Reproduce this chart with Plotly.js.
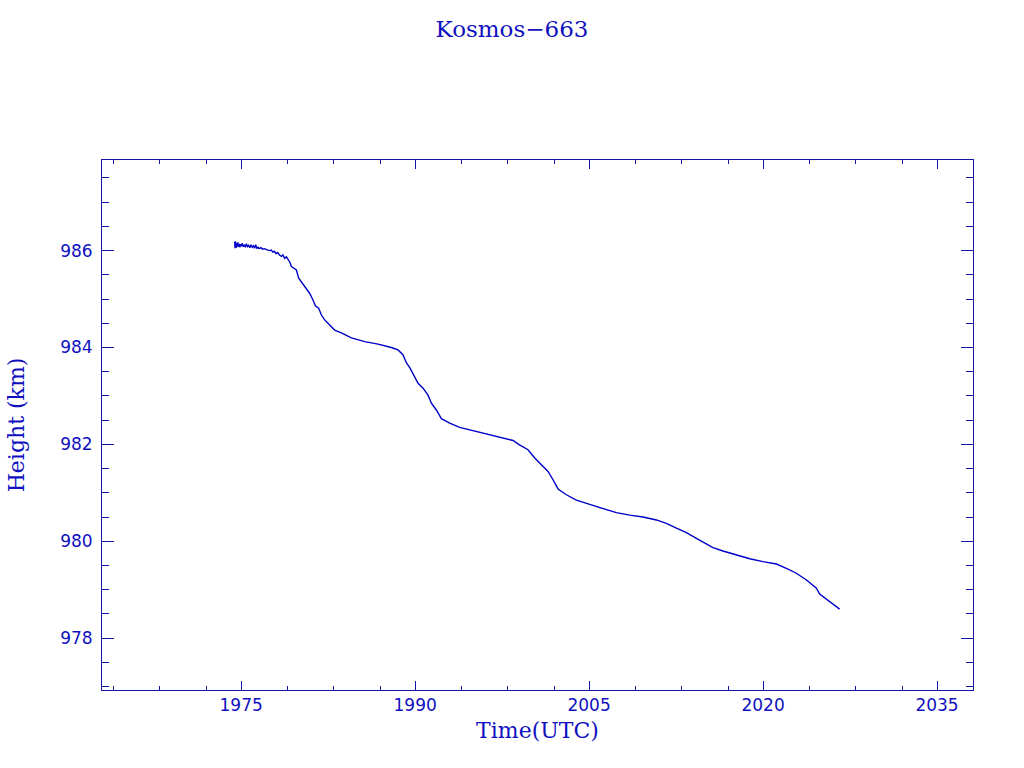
<!DOCTYPE html>
<html>
<head>
<meta charset="utf-8">
<script src="https://cdn.plot.ly/plotly-3.0.1.min.js"></script>
<style>html,body{margin:0;padding:0;background:#fff;}#chart{width:1024px;height:768px;}</style>
</head>
<body>
<div id="chart"></div>
<script>
var chartTitle = "Kosmos\u2212663";
var xTitle = "Time(UTC)";
var yTitle = "Height (km)";

var years = [
  1974.44,1974.47,1974.50,1974.53,1974.56,1974.60,1974.64,1974.68,1974.72,1974.76,
  1974.82,1974.88,1974.95,1975.02,1975.10,1975.18,1975.27,1975.36,1975.45,1975.55,
  1975.65,1975.75,1975.85,1975.95,1976.05,1976.15,1976.25,1976.35,1976.45,1976.55,
  1976.70,1976.85,1977.00,1977.15,1977.30,1977.45,1977.60,1977.72,1977.85,1978.00,
  1978.15,1978.30,1978.47,1978.60,1978.75,1978.90,1979.04,1979.20,1979.33,1979.55,
  1979.76,1979.96,1980.20,1980.48,1980.70,1980.90,1981.19,1981.40,1981.68,1981.92,
  1982.20,1982.63,1983.06,1983.64,1984.50,1985.65,1986.80,1987.95,1988.52,1988.95,
  1989.25,1989.55,1989.81,1990.25,1990.68,1991.10,1991.40,1991.83,1992.26,1992.98,
  1993.84,1994.99,1996.14,1997.29,1998.44,1999.00,1999.73,2000.31,2000.88,2001.46,
  2001.89,2002.32,2003.04,2003.90,2005.05,2006.20,2007.35,2008.50,2009.65,2010.80,
  2011.66,2012.53,2013.39,2014.25,2014.97,2015.68,2016.54,2017.70,2018.85,2019.99,
  2021.15,2022.01,2022.87,2023.74,2024.60,2024.88,2025.60,2026.60
];
var heights = [
  986.18,986.05,986.19,986.07,986.16,986.06,986.15,986.09,986.17,986.08,
  986.14,986.07,986.13,986.09,986.15,986.08,986.12,986.07,986.14,986.08,
  986.11,986.06,986.12,986.07,986.10,986.05,986.12,986.04,986.07,986.04,
  986.06,986.03,986.04,986.02,986.01,986.00,986.01,985.97,985.99,985.94,
  985.96,985.91,985.88,985.91,985.84,985.87,985.81,985.76,985.67,985.64,
  985.60,985.43,985.35,985.26,985.18,985.12,984.98,984.86,984.81,984.67,
  984.57,984.47,984.36,984.30,984.20,984.12,984.07,984.00,983.95,983.85,
  983.68,983.58,983.47,983.26,983.16,983.02,982.85,982.71,982.53,982.44,
  982.35,982.28,982.22,982.14,982.08,981.99,981.89,981.72,981.58,981.44,
  981.27,981.08,980.96,980.85,980.76,980.67,980.59,980.54,980.50,980.44,
  980.37,980.27,980.18,980.06,979.96,979.87,979.80,979.72,979.64,979.58,
  979.53,979.44,979.34,979.20,979.03,978.91,978.78,978.60
];

var xMajorTicks = [1975, 1990, 2005, 2020, 2035];
var xMajorLabels = ["1975", "1990", "2005", "2020", "2035"];
var xMinorTicks = [1964, 1968, 1972, 1979, 1983, 1987, 1994, 1998, 2002, 2009, 2013, 2017, 2024, 2028, 2032];
var yMajorTicks = [978, 980, 982, 984, 986];
var yMajorLabels = ["978", "980", "982", "984", "986"];
var yMinorTicks = [977, 977.5, 978.5, 979, 979.5, 980.5, 981, 981.5, 982.5, 983, 983.5, 984.5, 985, 985.5, 986.5, 987, 987.5];
var xRange = [1963, 2038.1];
var yRange = [976.93, 987.87];

var axisColor = "#1414a8";
var textColor = "#1010c0";
var lineColor = "#0000c8";

var trace = {
  x: years, y: heights, type: "scatter", mode: "lines",
  line: {color: lineColor, width: 1.4},
  hoverinfo: "skip"
};

var layout = {
  width: 1024, height: 768,
  paper_bgcolor: "#ffffff", plot_bgcolor: "#ffffff",
  margin: {l: 102, r: 51, t: 160, b: 78, pad: 0},
  showlegend: false,
  title: {
    text: chartTitle,
    font: {family: "DejaVu Serif", size: 23, color: textColor},
    x: 0.5, xref: "container", xanchor: "center",
    y: 0.962, yref: "container", yanchor: "middle"
  },
  xaxis: {
    range: xRange, showgrid: false, zeroline: false,
    showline: true, linecolor: axisColor, linewidth: 1, mirror: "allticks",
    ticks: "inside", ticklen: 9, tickwidth: 1, tickcolor: axisColor,
    tickmode: "array", tickvals: xMajorTicks, ticktext: xMajorLabels,
    tickfont: {family: "DejaVu Sans", size: 17, color: textColor},
    ticklabelstandoff: 0,
    minor: {tickmode: "array", tickvals: xMinorTicks, ticks: "inside", ticklen: 4, tickwidth: 1, tickcolor: axisColor, showgrid: false},
    title: {text: xTitle, font: {family: "DejaVu Serif", size: 22, color: textColor}, standoff: 8}
  },
  yaxis: {
    range: yRange, showgrid: false, zeroline: false,
    showline: true, linecolor: axisColor, linewidth: 1, mirror: "allticks",
    ticks: "inside", ticklen: 12, tickwidth: 1, tickcolor: axisColor,
    tickmode: "array", tickvals: yMajorTicks, ticktext: yMajorLabels,
    tickfont: {family: "DejaVu Sans", size: 17, color: textColor},
    ticklabelstandoff: 5,
    minor: {tickmode: "array", tickvals: yMinorTicks, ticks: "inside", ticklen: 7, tickwidth: 1, tickcolor: axisColor, showgrid: false},
    title: {text: yTitle, font: {family: "DejaVu Serif", size: 22, color: textColor}, standoff: 29}
  }
};

Plotly.newPlot("chart", [trace], layout, {staticPlot: true, displayModeBar: false});
</script>
</body>
</html>
